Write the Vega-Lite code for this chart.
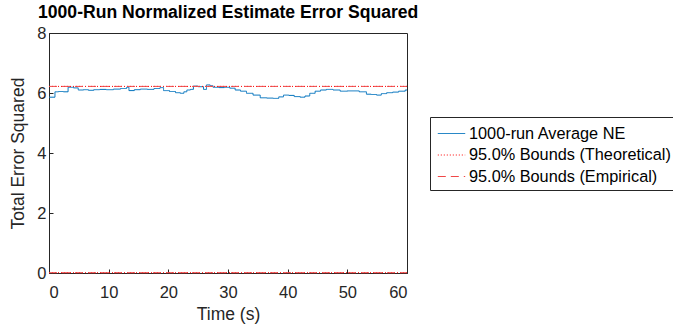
{
  "$schema": "https://vega.github.io/schema/vega-lite/v6.json",
  "autosize": "none",
  "width": 358,
  "height": 240,
  "padding": {"left": 49, "top": 33, "right": 266, "bottom": 54},
  "background": "white",
  "config": {
    "font": "Liberation Sans",
    "view": {"stroke": "#262626", "strokeWidth": 1},
    "axis": {"labelFont": "Liberation Sans", "titleFont": "Liberation Sans", "labelColor": "#262626", "titleColor": "#262626", "domainColor": "#262626", "tickColor": "#262626", "grid": false, "labelFontSize": 16.5, "titleFontSize": 17.5, "titleFontWeight": "normal"}
  },
  "title": {"text": "1000-Run Normalized Estimate Error Squared", "fontSize": 17.6, "fontWeight": "bold", "font": "Liberation Sans", "color": "#000000", "anchor": "start", "frame": "group", "dx": -11, "offset": 3},
  "datasets": {
    "ne": [
      {"t": 0, "v": 5.86}, {"t": 1.0, "v": 6.04}, {"t": 1.6, "v": 6.05}, {"t": 2.4, "v": 6.04}, {"t": 3.2, "v": 6.19}, {"t": 4.1, "v": 6.17},
      {"t": 4.9, "v": 6.1}, {"t": 5.8, "v": 6.11}, {"t": 6.6, "v": 6.09}, {"t": 7.5, "v": 6.11}, {"t": 8.5, "v": 6.12}, {"t": 9.6, "v": 6.11},
      {"t": 10.8, "v": 6.13}, {"t": 12.0, "v": 6.15}, {"t": 13.0, "v": 6.19}, {"t": 13.4, "v": 6.08}, {"t": 14.3, "v": 6.11}, {"t": 15.3, "v": 6.13},
      {"t": 16.5, "v": 6.12}, {"t": 17.6, "v": 6.15}, {"t": 18.6, "v": 6.18}, {"t": 19.2, "v": 6.08}, {"t": 20.2, "v": 6.05}, {"t": 21.2, "v": 6.01},
      {"t": 22.0, "v": 5.99}, {"t": 22.6, "v": 6.04}, {"t": 23.1, "v": 6.1}, {"t": 23.7, "v": 6.12}, {"t": 24.2, "v": 6.23}, {"t": 25.0, "v": 6.21},
      {"t": 25.9, "v": 6.12}, {"t": 26.4, "v": 6.27}, {"t": 27.0, "v": 6.24}, {"t": 27.5, "v": 6.19}, {"t": 28.5, "v": 6.18}, {"t": 29.4, "v": 6.19},
      {"t": 30.3, "v": 6.16}, {"t": 31.2, "v": 6.1}, {"t": 32.1, "v": 6.06}, {"t": 33.1, "v": 5.99}, {"t": 34.2, "v": 5.93}, {"t": 35.4, "v": 5.84},
      {"t": 36.5, "v": 5.83}, {"t": 37.6, "v": 5.82}, {"t": 38.5, "v": 5.87}, {"t": 39.3, "v": 5.93}, {"t": 40.2, "v": 5.92}, {"t": 41.1, "v": 5.88},
      {"t": 42.1, "v": 5.86}, {"t": 42.9, "v": 5.9}, {"t": 43.7, "v": 5.99}, {"t": 44.6, "v": 6.06}, {"t": 45.5, "v": 6.1}, {"t": 46.5, "v": 6.12},
      {"t": 47.6, "v": 6.1}, {"t": 48.8, "v": 6.06}, {"t": 50.0, "v": 6.07}, {"t": 51.0, "v": 6.07}, {"t": 52.0, "v": 6.04}, {"t": 53.2, "v": 5.96},
      {"t": 54.0, "v": 5.95}, {"t": 54.9, "v": 5.93}, {"t": 55.7, "v": 5.98}, {"t": 56.6, "v": 6.01}, {"t": 57.6, "v": 6.03}, {"t": 58.6, "v": 6.06},
      {"t": 59.7, "v": 6.1}, {"t": 60, "v": 6.1}
    ],
    "bounds": [
      {"t": 0, "v": 6.22, "series": "95.0% Bounds (Theoretical)", "b": "upper"},
      {"t": 60, "v": 6.22, "series": "95.0% Bounds (Theoretical)", "b": "upper"},
      {"t": 0, "v": 0.01, "series": "95.0% Bounds (Theoretical)", "b": "lower"},
      {"t": 60, "v": 0.01, "series": "95.0% Bounds (Theoretical)", "b": "lower"},
      {"t": 0, "v": 6.22, "series": "95.0% Bounds (Empirical)", "b": "upper"},
      {"t": 60, "v": 6.22, "series": "95.0% Bounds (Empirical)", "b": "upper"},
      {"t": 0, "v": 0.01, "series": "95.0% Bounds (Empirical)", "b": "lower"},
      {"t": 60, "v": 0.01, "series": "95.0% Bounds (Empirical)", "b": "lower"}
    ]
  },
  "layer": [
    {
      "data": {"name": "ne"},
      "transform": [{"calculate": "'1000-run Average NE'", "as": "series"}],
      "mark": {"type": "line", "interpolate": "step-after", "strokeWidth": 1, "clip": true},
      "encoding": {
        "x": {"field": "t", "type": "quantitative", "scale": {"domain": [0, 60], "nice": false}, "axis": {"title": "Time (s)", "values": [0, 10, 20, 30, 40, 50, 60], "tickSize": -4, "labelPadding": 15, "titlePadding": 5}},
        "y": {"field": "v", "type": "quantitative", "scale": {"domain": [0, 8], "nice": false}, "axis": {"title": "Total Error Squared", "values": [0, 2, 4, 6, 8], "tickSize": -4, "labelPadding": 7, "titlePadding": 9}},
        "color": {"field": "series", "type": "nominal", "scale": {"domain": ["1000-run Average NE", "95.0% Bounds (Theoretical)", "95.0% Bounds (Empirical)"], "range": ["#0072BD", "#FF0000", "#F04848"]},
          "legend": {"title": null, "orient": "none", "legendX": 381, "legendY": 84, "symbolType": "M-1.25,0H1.25", "symbolSize": 480, "symbolOffset": 5, "symbolStrokeWidth": 1, "labelFontSize": 16.3, "labelLimit": 400, "labelFont": "Liberation Sans", "labelColor": "#000000", "strokeColor": "#262626", "fillColor": "white", "padding": 5, "rowPadding": 1.5, "labelOffset": 6}},
        "strokeDash": {"field": "series", "type": "nominal", "scale": {"domain": ["1000-run Average NE", "95.0% Bounds (Theoretical)", "95.0% Bounds (Empirical)"], "range": [[1, 0], [1, 2], [8, 5]]}, "legend": null}
      }
    },
    {
      "data": {"name": "bounds"},
      "mark": {"type": "line", "strokeWidth": 1, "clip": false},
      "encoding": {
        "x": {"field": "t", "type": "quantitative"},
        "y": {"field": "v", "type": "quantitative"},
        "detail": {"field": "b"},
        "color": {"field": "series", "type": "nominal"},
        "strokeDash": {"field": "series", "type": "nominal"}
      }
    }
  ]
}
